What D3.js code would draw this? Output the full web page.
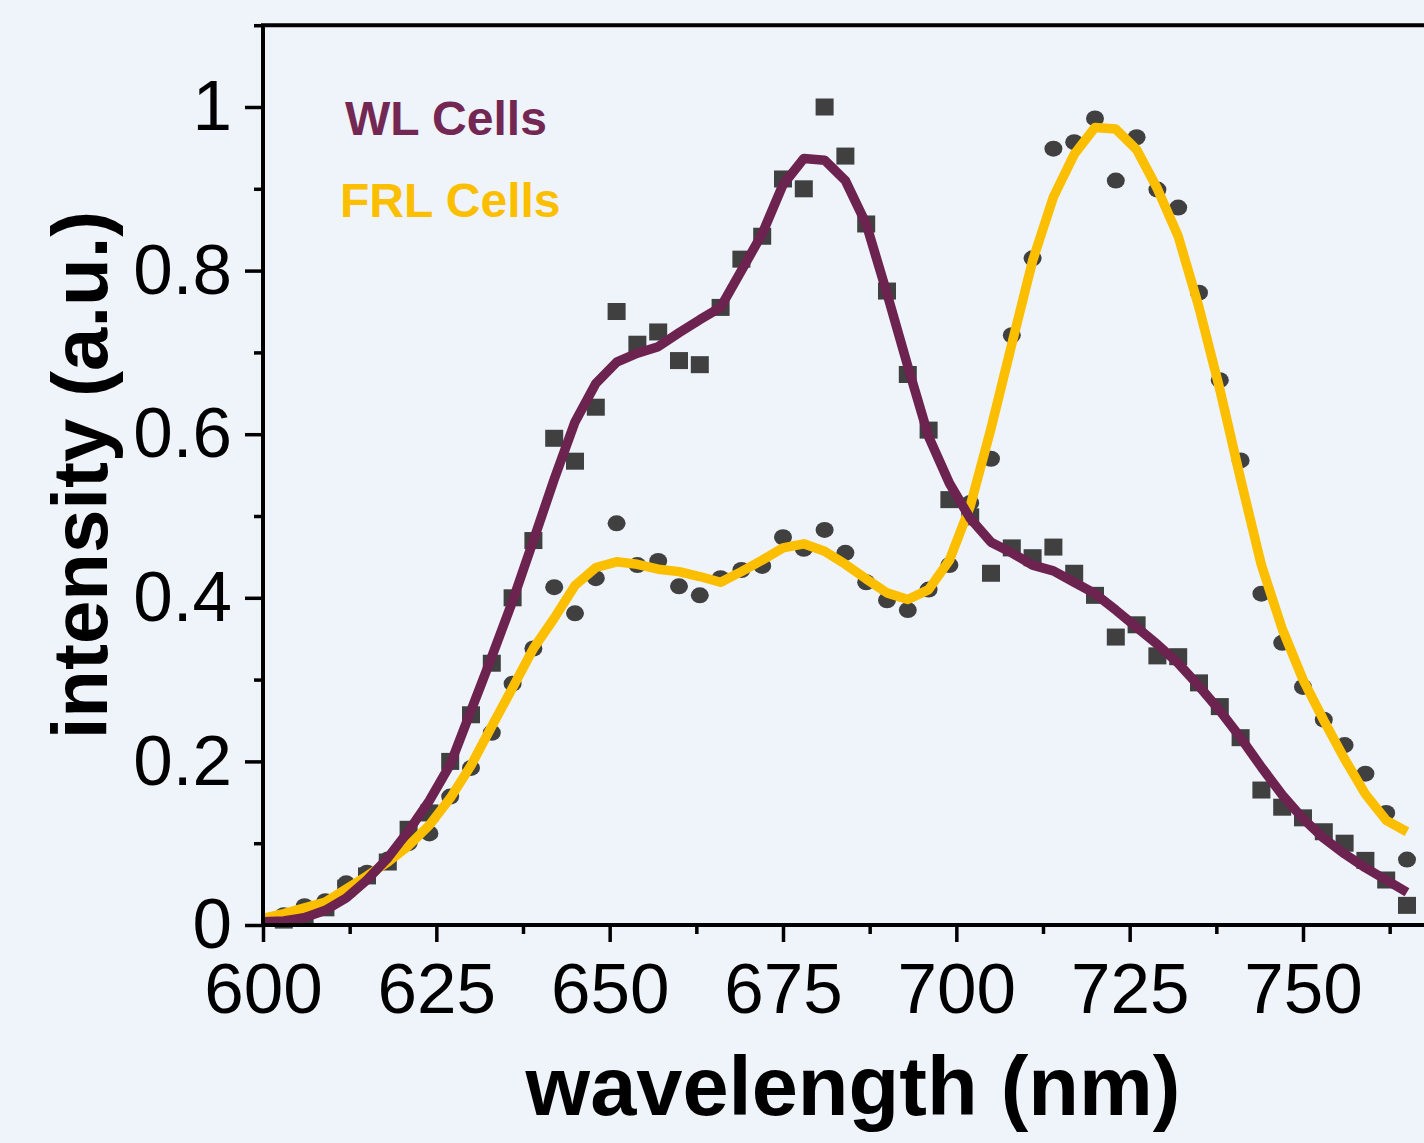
<!DOCTYPE html>
<html lang="en">
<head>
    <meta charset="UTF-8">
    <title>WL vs FRL cells spectra</title>
    <script src="https://d3js.org/d3.v7.min.js"></script>
    <style>
        body { margin: 0; background: #eff3fa; }
        svg { display: block; font-family: "Liberation Sans", Arial, sans-serif; }
    </style>
</head>
<body>
    <script>
        // measured points, 603..765 nm every 3 nm
        var pointWl = [603,606,609,612,615,618,621,624,627,630,633,636,639,642,645,648,651,654,657,660,
                       663,666,669,672,675,678,681,684,687,690,693,696,699,702,705,708,711,714,717,720,
                       723,726,729,732,735,738,741,744,747,750,753,756,759,762,765];
        var wlCells = [0.006,0.012,0.021,0.045,0.06,0.077,0.117,0.137,0.2,0.257,0.32,0.4,0.47,0.595,0.567,0.633,0.75,0.71,0.725,0.69,
                       0.685,0.755,0.814,0.842,0.912,0.90,1.0,0.94,0.857,0.775,0.673,0.605,0.52,0.499,0.43,0.461,0.449,0.462,0.43,0.403,
                       0.352,0.367,0.329,0.328,0.296,0.267,0.229,0.165,0.144,0.131,0.114,0.1,0.079,0.055,0.024];
        var frlCells = [0.012,0.023,0.029,0.051,0.064,0.08,0.1,0.112,0.157,0.192,0.235,0.295,0.338,0.413,0.381,0.424,0.491,0.44,0.445,0.414,
                        0.403,0.424,0.434,0.439,0.474,0.46,0.483,0.455,0.419,0.397,0.385,0.41,0.44,0.516,0.57,0.721,0.815,0.949,0.957,0.986,
                        0.91,0.963,0.899,0.877,0.773,0.666,0.568,0.405,0.345,0.291,0.251,0.22,0.185,0.137,0.08];

        // smoothed curves, 600..765 nm every 3 nm
        var fitWl = [600].concat(pointWl);
        var wlFit = [0.004,0.005,0.009,0.018,0.033,0.055,0.082,0.115,0.152,0.196,0.262,0.328,0.396,0.47,0.545,0.615,0.662,0.688,0.699,0.707,
                     0.724,0.74,0.755,0.8,0.845,0.905,0.937,0.935,0.91,0.857,0.772,0.683,0.597,0.54,0.497,0.468,0.455,0.44,0.433,0.419,
                     0.405,0.385,0.364,0.343,0.32,0.292,0.262,0.229,0.193,0.159,0.13,0.106,0.087,0.07,0.055,0.04];
        var frlFit = [0.008,0.014,0.021,0.028,0.044,0.06,0.077,0.097,0.122,0.155,0.195,0.243,0.29,0.338,0.375,0.415,0.437,0.444,0.441,0.435,
                      0.432,0.426,0.419,0.432,0.446,0.461,0.466,0.457,0.441,0.423,0.406,0.398,0.41,0.446,0.512,0.607,0.71,0.812,0.89,0.942,
                      0.975,0.973,0.948,0.9,0.842,0.755,0.655,0.545,0.44,0.362,0.3,0.25,0.203,0.16,0.128,0.114];

        var xTicks = [600,625,650,675,700,725,750];
        var yTicks = [0,0.2,0.4,0.6,0.8,1];

        var w = 1424;
        var h = 1143;
        var plotLeft = 263, plotBottom = 925;

        var xScale = d3.scaleLinear()
                       .domain([600, 750])
                       .range([plotLeft, plotLeft + 1040]);
        var yScale = d3.scaleLinear()
                       .domain([0, 1])
                       .range([plotBottom, 107]);
        var plotTop = yScale(1.1);

        var svg = d3.select('body')
                    .append('svg')
                    .attr('width', w)
                    .attr('height', h);

        svg.append('rect')
           .attr('width', w)
           .attr('height', h)
           .attr('fill', '#eff3fa');

        // minor ticks first
        var xMinor = d3.axisBottom(xScale)
                       .tickValues(d3.range(612.5, 770, 25))
                       .tickSize(9)
                       .tickFormat('');
        var yMinor = d3.axisLeft(yScale)
                       .tickValues([0.1, 0.3, 0.5, 0.7, 0.9, 1.1])
                       .tickSize(9)
                       .tickFormat('');

        var xAxis = d3.axisBottom(xScale)
                      .tickValues(xTicks)
                      .tickSize(17)
                      .tickSizeOuter(0)
                      .tickFormat(d3.format('d'));
        var yAxis = d3.axisLeft(yScale)
                      .tickValues(yTicks)
                      .tickSize(18)
                      .tickSizeOuter(0)
                      .tickFormat(function(d) { return d === 0 || d === 1 ? String(d) : d.toFixed(1); });

        function styleAxis(g) {
            g.selectAll('path').remove();
            g.selectAll('line').attr('stroke', '#000').attr('stroke-width', 3.5);
            g.selectAll('text').attr('fill', '#000').attr('font-size', 71);
        }

        svg.append('g')
           .attr('transform', 'translate(0,' + plotBottom + ')')
           .call(xMinor).call(styleAxis);
        svg.append('g')
           .attr('transform', 'translate(' + plotLeft + ',0)')
           .call(yMinor).call(styleAxis);

        svg.append('g')
           .attr('transform', 'translate(0,' + plotBottom + ')')
           .call(xAxis).call(styleAxis)
           .selectAll('text')
           .attr('y', 88)
           .attr('dy', 0);

        svg.append('g')
           .attr('transform', 'translate(' + plotLeft + ',0)')
           .call(yAxis).call(styleAxis)
           .selectAll('text')
           .attr('x', -31);

        // markers
        svg.selectAll('.sq')
           .data(wlCells)
           .enter()
           .append('rect')
           .attr('class', 'sq')
           .attr('x', function(d, i) { return xScale(pointWl[i]) - 9; })
           .attr('y', function(d) { return yScale(d) - 8.5; })
           .attr('width', 18)
           .attr('height', 17)
           .attr('fill', '#404040');

        svg.selectAll('.dot')
           .data(frlCells)
           .enter()
           .append('ellipse')
           .attr('class', 'dot')
           .attr('cx', function(d, i) { return xScale(pointWl[i]); })
           .attr('cy', function(d) { return yScale(d); })
           .attr('rx', 9)
           .attr('ry', 8)
           .attr('fill', '#404040');

        var line = d3.line()
                     .x(function(d, i) { return xScale(fitWl[i]); })
                     .y(function(d) { return yScale(d); });

        svg.append('path')
           .datum(frlFit)
           .attr('d', line)
           .attr('fill', 'none')
           .attr('stroke', '#fbbf00')
           .attr('stroke-width', 9.5)
           .attr('stroke-linejoin', 'round');

        svg.append('path')
           .datum(wlFit)
           .attr('d', line)
           .attr('fill', 'none')
           .attr('stroke', '#6d2350')
           .attr('stroke-width', 9.5)
           .attr('stroke-linejoin', 'round');

        // frame lines: top, left, bottom
        svg.append('path')
           .attr('d', 'M' + (w + 10) + ',' + plotTop + 'H' + plotLeft + 'V' + plotBottom + 'H' + (w + 10))
           .attr('fill', 'none')
           .attr('stroke', '#000')
           .attr('stroke-width', 4);

        // legend text
        svg.append('text')
           .attr('x', 345)
           .attr('y', 135)
           .attr('font-size', 48)
           .attr('font-weight', 'bold')
           .attr('fill', '#732853')
           .text('WL Cells');
        svg.append('text')
           .attr('x', 340)
           .attr('y', 217)
           .attr('font-size', 48)
           .attr('font-weight', 'bold')
           .attr('fill', '#fbbf00')
           .text('FRL Cells');

        // axis titles
        svg.append('text')
           .attr('x', 853)
           .attr('y', 1115)
           .attr('text-anchor', 'middle')
           .attr('font-size', 83)
           .attr('font-weight', 'bold')
           .text('wavelength (nm)');
        svg.append('text')
           .attr('transform', 'translate(107,475) rotate(-90)')
           .attr('text-anchor', 'middle')
           .attr('font-size', 78)
           .attr('font-weight', 'bold')
           .text('intensity (a.u.)');
    </script>
</body>
</html>
